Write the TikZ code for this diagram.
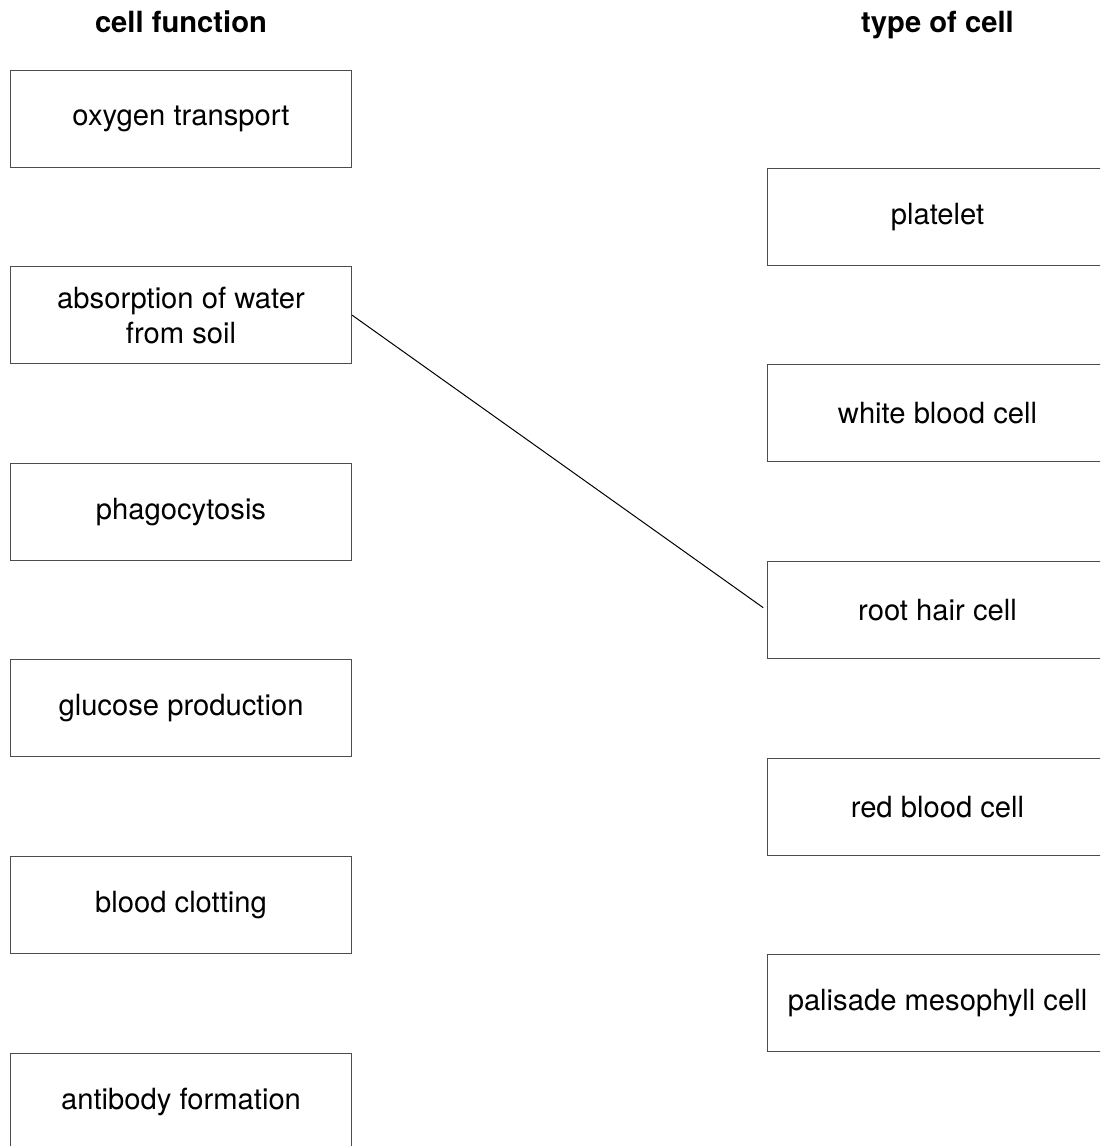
\documentclass[tikz,border=0pt]{standalone}
\usepackage{fontspec}
\setmainfont{TeX Gyre Heros}

\begin{document}
\begin{tikzpicture}[x=0.5pt,y=-0.5pt,
  txt/.style={font=\fontsize{14.6}{17.5}\selectfont},
  hd/.style={txt,font=\fontsize{14.6}{17.5}\selectfont\bfseries,anchor=base},
  cell/.style={txt,draw=black!70,line width=0.5pt,align=center,inner sep=0pt,
               minimum width=170.5pt,minimum height=48.5pt}]
\useasboundingbox (0,0) rectangle (1100,1146);
\clip (0,0) rectangle (1100,1146);
\node[hd] (hfun) at (181,32) {cell function};
\node[hd] (htype) at (937.5,32) {type of cell};
\foreach \i/\lab in {1/{oxygen transport},2/{absorption of water\\ from soil},
                     3/{phagocytosis},4/{glucose production},
                     5/{blood clotting},6/{antibody formation}} {
  \node[cell] (f\i) at (181,{118.5+196.6*(\i-1)}) {\lab};
}
\foreach \i/\lab in {1/{platelet},2/{white blood cell},3/{root hair cell},
                     4/{red blood cell},5/{palisade mesophyll cell}} {
  \node[cell] (t\i) at (937.5,{216.8+196.6*(\i-1)}) {\lab};
}
% the one answer already drawn in
\draw[line width=0.5pt,shorten >=2pt] (f2.east) -- (t3.west);
\end{tikzpicture}
\end{document}
